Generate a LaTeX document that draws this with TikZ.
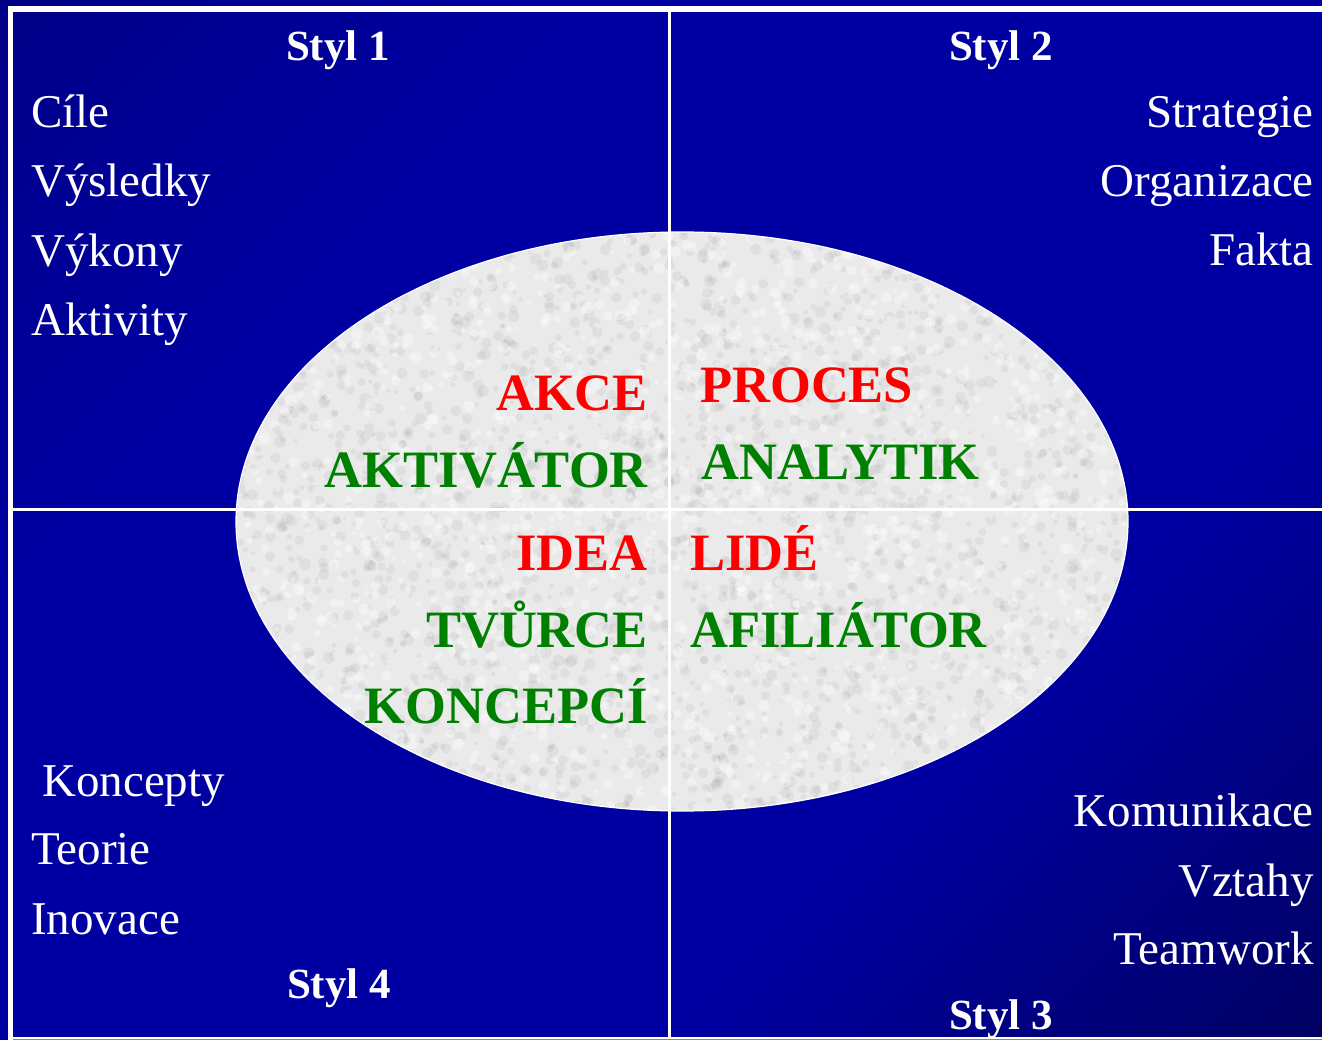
\documentclass[tikz,border=0pt]{standalone}
\usepackage{fontspec}
\setmainfont{Liberation Serif}
\begin{document}
\definecolor{navydark}{RGB}{0,0,134}
\definecolor{navymid}{RGB}{0,0,162}
\definecolor{navydeep}{RGB}{0,0,96}
\definecolor{granite}{RGB}{234,234,234}
\definecolor{akred}{RGB}{255,0,0}
\definecolor{akgreen}{RGB}{0,128,0}
\definecolor{lavender}{RGB}{128,128,200}
\pgfdeclareverticalshading{bgdiag}{100bp}{color(0bp)=(navydeep); color(14bp)=(navydeep); color(34bp)=(navymid); color(68bp)=(navymid); color(86bp)=(navydark); color(100bp)=(navydark)}
\begin{tikzpicture}[x=1pt,y=-1pt,
  plain/.style={text=white,font=\fontsize{47}{56}\selectfont,inner sep=0pt},
  stylehead/.style={text=white,font=\fontsize{43}{50}\selectfont\bfseries,inner sep=0pt,anchor=base},
  keyword/.style={font=\fontsize{52.5}{60}\selectfont\bfseries,inner sep=0pt},
  redword/.style={keyword,text=akred},
  greenword/.style={keyword,text=akgreen},
  rule/.style={fill=white,draw=none}]
\useasboundingbox (0,0) rectangle (1322,1040);

% background with diagonal gradient
\shade[shading=bgdiag,shading angle=45] (0,0) rectangle (1322,1040);

% central oval with mottled texture
\begin{scope}
  \clip (682,521.5) ellipse [x radius=446, y radius=289.5];
  \fill[granite] (236,232) rectangle (1128,811);
  \pgfmathsetseed{7}
  \foreach \i in {1,...,2600}{
    \pgfmathsetmacro\px{236+892*rnd}
    \pgfmathsetmacro\py{232+579*rnd}
    \pgfmathsetmacro\rr{2+4*rnd}
    \fill[black,opacity=0.045] (\px,\py) circle[radius=\rr];
  }
  \foreach \i in {1,...,1600}{
    \pgfmathsetmacro\px{236+892*rnd}
    \pgfmathsetmacro\py{232+579*rnd}
    \pgfmathsetmacro\rr{2+4*rnd}
    \fill[white,opacity=0.35] (\px,\py) circle[radius=\rr];
  }
\end{scope}
\draw[white,line width=1.2pt] (682,521.5) ellipse [x radius=446, y radius=289.5];

% frame and quadrant dividers
\fill[rule] (8,6) rectangle (1322,12);
\fill[rule] (8,6) rectangle (13,1040);
\fill[rule] (668,12) rectangle (671,1037);
\fill[rule] (13,508) rectangle (1322,511);
\fill[rule] (13,1036.5) rectangle (1322,1038.5);
\fill[lavender] (13,1038.5) rectangle (1322,1040);

% quadrant headings
\node[stylehead] (s1) at (338,61) {Styl 1};
\node[stylehead] (s2) at (1001,61) {Styl 2};
\node[stylehead] (s4) at (339,998) {Styl 4};
\node[stylehead] (s3) at (1001,1029) {Styl 3};

% style 1 list
\node[plain,anchor=base west] (c1) at (31,128) {Cíle};
\node[plain,anchor=base west] (c2) at (31,197) {Výsledky};
\node[plain,anchor=base west] (c3) at (31,267) {Výkony};
\node[plain,anchor=base west] (c4) at (31,336) {Aktivity};

% style 2 list
\node[plain,anchor=base east] (d1) at (1314,128) {Strategie};
\node[plain,anchor=base east] (d2) at (1314,197) {Organizace};
\node[plain,anchor=base east] (d3) at (1314,266) {Fakta};

% style 4 list
\node[plain,anchor=base west] (e1) at (42,796) {Koncepty};
\node[plain,anchor=base west] (e2) at (31,864) {Teorie};
\node[plain,anchor=base west] (e3) at (31,934) {Inovace};

% style 3 list
\node[plain,anchor=base east] (f1) at (1314,826) {Komunikace};
\node[plain,anchor=base east] (f2) at (1314,896) {Vztahy};
\node[plain,anchor=base east] (f3) at (1314,964) {Teamwork};

% keywords inside the oval
\node[redword,anchor=base east] (k1) at (648,410) {AKCE};
\node[greenword,anchor=base east] (k2) at (648,487) {AKTIVÁTOR};
\node[redword,anchor=base west] (k3) at (700,402) {PROCES};
\node[greenword,anchor=base west] (k4) at (701,479) {ANALYTIK};
\node[redword,anchor=base east] (k5) at (648,570) {IDEA};
\node[greenword,anchor=base east] (k6) at (648,647) {TVŮRCE};
\node[greenword,anchor=base east] (k7) at (648,723) {KONCEPCÍ};
\node[redword,anchor=base west] (k8) at (690,570) {LIDÉ};
\node[greenword,anchor=base west] (k9) at (690,647) {AFILIÁTOR};
\end{tikzpicture}
\end{document}
